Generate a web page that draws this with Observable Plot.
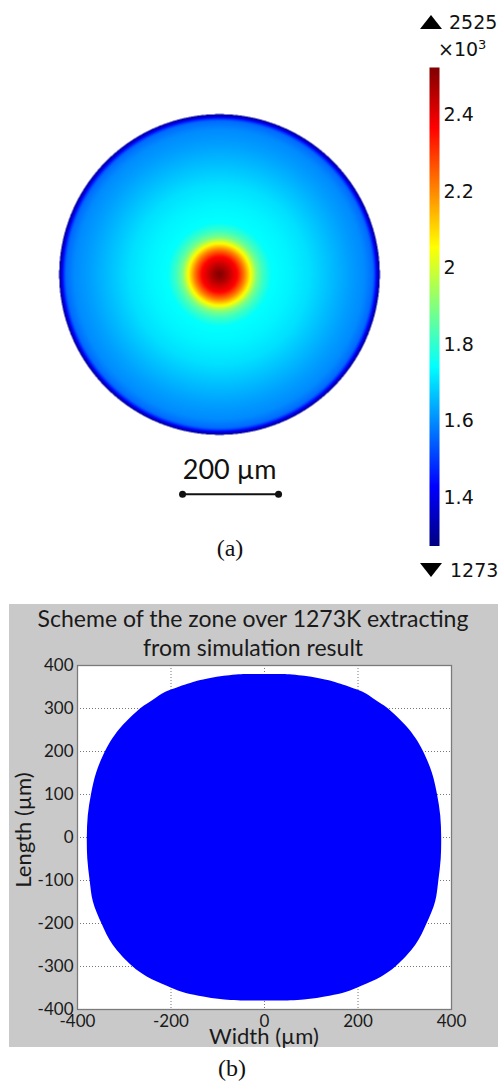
<!DOCTYPE html>
<html><head><meta charset="utf-8">
<script src="https://cdn.jsdelivr.net/npm/d3@7"></script>
<script src="https://cdn.jsdelivr.net/npm/@observablehq/plot@0.6"></script>
<style>
body{margin:0;background:#fff;}
#root{position:relative;width:502px;height:1083px;overflow:hidden;background:#fff;}
.abs{position:absolute;line-height:1;white-space:nowrap;}
.c{transform:translate(-50%,-50%);}
.l{transform:translate(0,-50%);}
.cb{font-family:"DejaVu Sans",sans-serif;font-size:19px;color:#111;}
.cal{font-family:Lato,"Open Sans",sans-serif;color:#1a1a1a;}
.ser{font-family:"Liberation Serif","DejaVu Serif",serif;font-size:24px;color:#111;}
</style></head><body><div id="root"></div>
<script>
// ---- (a) temperature field: radial profile ----
const tempRadius = [0, 12.5, 25, 37.5, 52, 64.6, 77, 89.6, 108, 146, 187.5, 229, 271, 302, 320, 325, 329, 334]; // μm
const tempValues = [2525, 2480, 2420, 2360, 2212, 2055, 1900, 1820, 1745, 1730, 1705, 1665, 1625, 1600, 1560, 1480, 1380, 1290]; // K
const tempMin = 1273, tempMax = 2525;
const colorbarTicks = [1.4, 1.6, 1.8, 2.0, 2.2, 2.4]; // ×10^3 K
const scaleBarLength = 200; // μm

// ---- (b) zone over 1273 K: boundary (half-widths) ----
const diskY     = [-380.5, -378, -369, -360, -346, -325, -300, -250, -200, -150, -100, -50, 0, 50, 100, 150, 200, 230, 257, 300, 320, 334, 350, 365, 370, 375, 379];
const diskHalfW = [40, 85, 140, 176, 208, 250, 282, 324, 348, 366, 373, 378, 379, 377, 370, 359, 340, 324, 305, 264, 237, 218, 181, 136, 115, 86, 44];
const ticksX = [-400, -200, 0, 200, 400];
const ticksY = [-400, -300, -200, -100, 0, 100, 200, 300, 400];
const gridXv = [-200, 0, 200];
const gridYv = [-300, -200, -100, 0, 100, 200, 300];

const jet = {
  type: "linear",
  domain: [tempMin, tempMin + 0.125*(tempMax-tempMin), tempMin + 0.375*(tempMax-tempMin), tempMin + 0.625*(tempMax-tempMin), tempMin + 0.875*(tempMax-tempMin), tempMax],
  range: ["#000080", "#0000ff", "#00ffff", "#ffff00", "#ff0000", "#800000"],
  interpolate: "rgb",
  clamp: true
};

const root = document.getElementById("root");
function place(el, left, top) {
  el.style.position = "absolute"; el.style.left = left + "px"; el.style.top = top + "px";
  root.appendChild(el);
}
function label(html, x, y, cls) {
  const d = document.createElement("div");
  d.className = "abs " + cls; d.innerHTML = html;
  d.style.left = x + "px"; d.style.top = y + "px";
  root.appendChild(d); return d;
}

// ---- (a) disk heat map ----
const profile = d3.scaleLinear().domain(tempRadius).range(tempValues);
const rMax = tempRadius[tempRadius.length - 1];
const heat = Plot.plot({
  width: 360, height: 480, margin: 0,
  x: {domain: [-375, 375], axis: null},
  y: {domain: [-625, 375], axis: null},
  color: jet,
  style: {background: "transparent"},
  marks: [
    Plot.raster({x1: -350, x2: 350, y1: -350, y2: 350, pixelSize: 0.5,
      fill: (x, y) => { const r = Math.hypot(x, y); return r <= rMax ? profile(r) : NaN; }}),
    Plot.link([{x1: -77, x2: -77 + scaleBarLength, y: -458}], {x1: "x1", x2: "x2", y1: "y", y2: "y", stroke: "#111", strokeWidth: 2}),
    Plot.dot([{x: -77, y: -458}, {x: -77 + scaleBarLength, y: -458}], {x: "x", y: "y", r: 3.5, fill: "#111", stroke: null}),
    Plot.text([{x: 21, y: -408}], {x: "x", y: "y", text: () => `${scaleBarLength} µm`, fontSize: 27, fontFamily: "Lato, sans-serif", fill: "#111", lineAnchor: "middle"})
  ]
});
place(heat, 39, 94);

// ---- colour bar ----
const cbar = Plot.plot({
  width: 72, height: 479, marginLeft: 0, marginRight: 62, marginTop: 0, marginBottom: 0,
  x: {domain: [0, 1], axis: null},
  y: {domain: [tempMin/1000, tempMax/1000], axis: null},
  color: jet,
  style: {background: "transparent", fontFamily: "DejaVu Sans, sans-serif", fontSize: "19px", color: "#111"},
  marks: [
    Plot.raster({x1: 0, x2: 1, y1: tempMin/1000, y2: tempMax/1000, pixelSize: 1, fill: (x, y) => y*1000}),
    Plot.axisY({anchor: "right", ticks: colorbarTicks, tickSize: 0, tickPadding: 4, tickFormat: d => String(+d.toFixed(1)), fontSize: 19})
  ]
});
place(cbar, 429, 67);

const up = document.createElement("div");
up.style.cssText = "width:0;height:0;border-left:11px solid transparent;border-right:11px solid transparent;border-bottom:14px solid #000;";
place(up, 420, 15);
const dn = document.createElement("div");
dn.style.cssText = "width:0;height:0;border-left:11px solid transparent;border-right:11px solid transparent;border-top:14px solid #000;";
place(dn, 420, 563);
label("2525", 449, 22, "cb l");
label("×10<sup style='font-size:13px;vertical-align:7px'>3</sup>", 438, 48, "cb l");
label("1273", 450, 570, "cb l");
label("(a)", 230, 548, "ser c");

// ---- (b) panel ----
const gray = document.createElement("div");
gray.style.cssText = "width:489px;height:443px;background:#c9c9c9;";
place(gray, 9, 604);

const boundary = diskY.map((y, i) => ({y, left: -diskHalfW[i], right: diskHalfW[i]}));
const zone = Plot.plot({
  width: 502, height: 443, marginLeft: 77, marginRight: 51, marginTop: 61, marginBottom: 38,
  x: {domain: [-400, 400]},
  y: {domain: [-400, 400]},
  style: {background: "transparent", fontFamily: "Lato, sans-serif", fontSize: "17px", color: "#1a1a1a"},
  marks: [
    Plot.frame({fill: "white", stroke: null}),
    Plot.gridX(gridXv, {stroke: "#777", strokeOpacity: 1, strokeDasharray: "1,2"}),
    Plot.gridY(gridYv, {stroke: "#777", strokeOpacity: 1, strokeDasharray: "1,2"}),
    Plot.areaX(boundary, {y: "y", x1: "left", x2: "right", fill: "#0000ff", curve: "catmull-rom"}),
    Plot.axisX({ticks: ticksX, tickSize: 0, tickPadding: 5, label: null, fontSize: 17, tickFormat: d => String(d)}),
    Plot.axisY({ticks: ticksY, tickSize: 0, tickPadding: 4, label: null, fontSize: 17, tickFormat: d => String(d)}),
    Plot.frame({stroke: "#7a7a7a", strokeWidth: 1.3})
  ]
});
place(zone, 0, 604);

label("Scheme of the zone over 1273K extracting", 253, 618, "cal c").style.fontSize = "23px";
label("from simulation result", 253, 647, "cal c").style.fontSize = "23px";
const ly = label("Length (µm)", 23, 830, "cal");
ly.style.fontSize = "22px"; ly.style.transform = "translate(-50%,-50%) rotate(-90deg)";
label("Width (µm)", 264, 1036, "cal c").style.fontSize = "22px";
label("(b)", 232, 1068, "ser c");
</script></body></html>
